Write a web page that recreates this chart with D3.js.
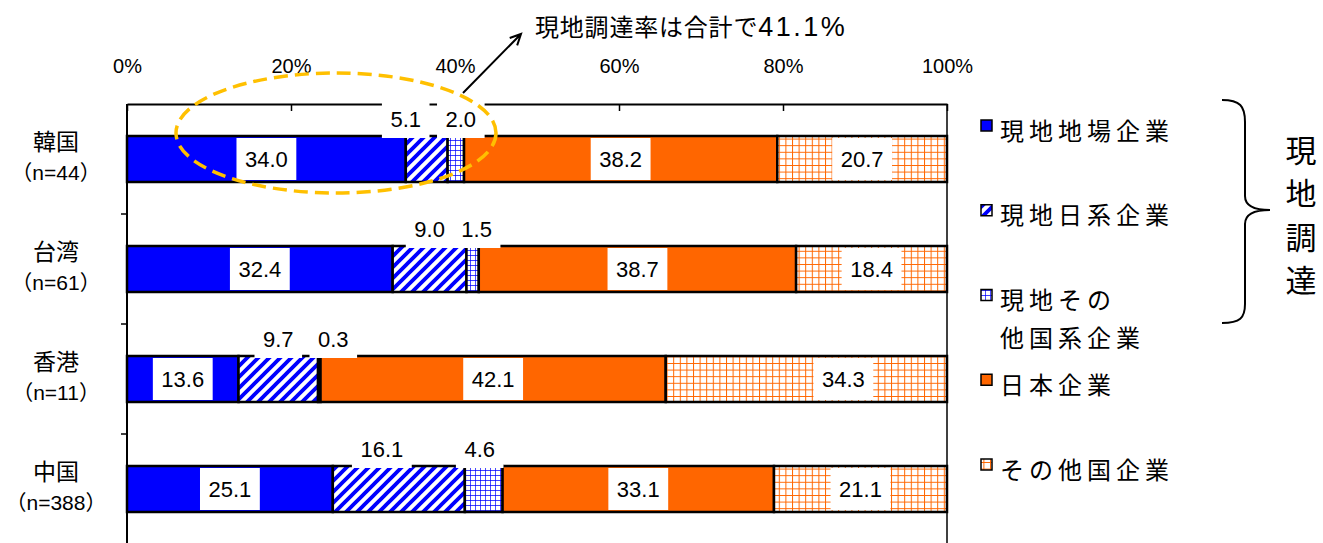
<!DOCTYPE html>
<html>
<head>
<meta charset="utf-8">
<script src="https://cdn.jsdelivr.net/npm/d3@7"></script>
<style>
  html, body { margin: 0; padding: 0; background: #fff; }
  svg { display: block; }
  text { font-family: "Liberation Sans", "Noto Sans CJK JP", sans-serif; fill: #000; }
  .jp { font-family: "Noto Sans CJK JP", sans-serif; }
</style>
</head>
<body>
<svg id="chart" width="1323" height="543"></svg>
<script>
// Procurement sources by region (%)
const categories = ["韓国", "台湾", "香港", "中国"];
const sampleSizes = ["n=44", "n=61", "n=11", "n=388"];
const seriesNames = ["現地地場企業", "現地日系企業", "現地その他国系企業", "日本企業", "その他国企業"];
const legendLines = [["現地地場企業"], ["現地日系企業"], ["現地その", "他国系企業"], ["日本企業"], ["その他国企業"]];
const localLocal    = [34.0, 32.4, 13.6, 25.1];
const localJapanese = [5.1, 9.0, 9.7, 16.1];
const localOther    = [2.0, 1.5, 0.3, 4.6];
const japanCos      = [38.2, 38.7, 42.1, 33.1];
const otherCos      = [20.7, 18.4, 34.3, 21.1];
const xTicks = [0, 20, 40, 60, 80, 100];
const calloutText = "現地調達率は合計で41.1%";
const bracketLabel = "現地調達";

const seriesValues = [localLocal, localJapanese, localOther, japanCos, otherCos];
const table = categories.map((c, i) => {
  const row = { category: c };
  seriesNames.forEach((s, j) => { row[s] = seriesValues[j][i]; });
  return row;
});

const svg = d3.select("#chart");

// ---- fill patterns ----
const defs = svg.append("defs");
const diag = defs.append("pattern").attr("id", "diag")
  .attr("patternUnits", "userSpaceOnUse").attr("width", 11).attr("height", 11);
diag.append("rect").attr("width", 11).attr("height", 11).attr("fill", "#fff");
diag.append("path").attr("d", "M-2,13 L13,-2 M-2,2 L2,-2 M9,13 L13,9")
  .attr("stroke", "#0000FF").attr("stroke-width", 3.8);

function grid(id, size, color, w) {
  const p = defs.append("pattern").attr("id", id)
    .attr("patternUnits", "userSpaceOnUse").attr("width", size).attr("height", size);
  p.append("rect").attr("width", size).attr("height", size).attr("fill", "#fff");
  p.append("path").attr("d", `M0,0 L${size},0 M0,0 L0,${size}`)
    .attr("stroke", color).attr("stroke-width", w);
}
grid("bgrid", 5, "#0000FF", 1.4);
grid("ogrid", 6.6, "#FF6600", 2);

const fills = ["#0000FF", "url(#diag)", "url(#bgrid)", "#FF6600", "url(#ogrid)"];

// ---- scales ----
const x = d3.scaleLinear().domain([0, 100]).range([127, 947]);
const y = d3.scaleBand().domain(categories).range([104, 544])
  .paddingInner(0.5818).paddingOuter(0.2909);
const bw = y.bandwidth();
const step = y.step();

// ---- frame ----
svg.append("line").attr("x1", x(100)).attr("x2", x(100)).attr("y1", 104).attr("y2", 543)
  .attr("stroke", "#000").attr("stroke-width", 1.5);

const topAxis = svg.append("g").attr("transform", "translate(0,104)")
  .call(d3.axisTop(x).tickValues(xTicks).tickSizeInner(-7).tickSizeOuter(0)
    .tickPadding(31).tickFormat(d => d + "%"));
topAxis.select(".domain").attr("stroke", "#000").attr("stroke-width", 2);
topAxis.selectAll(".tick line").attr("stroke", "#000").attr("stroke-width", 1.5);
topAxis.selectAll(".tick text").attr("font-size", 20).attr("fill", "#000")
  .style("font-family", '"Liberation Sans", sans-serif');

// ---- stacked bars ----
const stacked = d3.stack().keys(seriesNames)(table);
const layers = svg.append("g").selectAll("g").data(stacked).join("g")
  .attr("fill", (d, i) => fills[i]);
layers.selectAll("rect").data(d => d).join("rect")
  .attr("x", d => x(d[0]))
  .attr("y", d => y(d.data.category))
  .attr("width", d => x(d[1]) - x(d[0]))
  .attr("height", bw)
  .attr("stroke", "#000").attr("stroke-width", 2.5);

// left axis line and category separators
svg.append("line").attr("x1", x(0)).attr("x2", x(0)).attr("y1", 104).attr("y2", 543)
  .attr("stroke", "#000").attr("stroke-width", 2);
svg.append("g").selectAll("line").data(categories).join("line")
  .attr("x1", x(0) - 6).attr("x2", x(0))
  .attr("y1", d => y(d) + bw + (step - bw) / 2)
  .attr("y2", d => y(d) + bw + (step - bw) / 2)
  .attr("stroke", "#000").attr("stroke-width", 1.5);

// category labels: name, then sample size in full-width parentheses
const catG = svg.append("g");
const labelX = 56;
categories.forEach((c, i) => {
  const cy = y(c) + bw / 2;
  catG.append("text").attr("class", "jp").attr("x", labelX).attr("y", cy - 17)
    .attr("dy", "0.36em").attr("text-anchor", "middle").attr("font-size", 23)
    .text(c);
  const n = catG.append("text").attr("x", labelX).attr("y", cy + 13)
    .attr("dy", "0.36em").attr("text-anchor", "middle").attr("font-size", 21);
  n.append("tspan").attr("class", "jp").text("（");
  n.append("tspan").text(sampleSizes[i]);
  n.append("tspan").attr("class", "jp").text("）");
});

// ---- value labels ----
const labelNudge = {
  "韓国|現地日系企業": -21, "韓国|現地その他国系企業": 5,
  "台湾|現地その他国系企業": 4,
  "香港|現地その他国系企業": 14, "香港|その他国企業": 37,
  "中国|現地日系企業": -17, "中国|現地その他国系企業": -4
};
const labelG = svg.append("g");
stacked.forEach((layer, si) => {
  layer.forEach(d => {
    const cat = d.data.category;
    const val = d[1] - d[0];
    const above = si === 1 || si === 2;
    const cx = x((d[0] + d[1]) / 2) + (labelNudge[cat + "|" + layer.key] || 0);
    const barTop = y(cat);
    const cy = above ? barTop - 17 : barTop + bw / 2;
    const g = labelG.append("g");
    const rect = g.append("rect").attr("fill", "#fff");
    const t = g.append("text").attr("x", cx).attr("y", cy).attr("dy", "0.36em")
      .attr("text-anchor", "middle").attr("font-size", 22)
      .text(d3.format(".1f")(val));
    const w = t.node().getComputedTextLength() + 17;
    if (above) {
      rect.attr("x", cx - w / 2).attr("y", barTop - 33).attr("width", w).attr("height", 35);
    } else {
      rect.attr("x", cx - w / 2).attr("y", cy - 21).attr("width", w).attr("height", 42);
    }
  });
});

// ---- legend ----
const ly = d3.scalePoint().domain(seriesNames).range([131, 470]);
const legend = svg.append("g");
seriesNames.forEach((s, i) => {
  const cy = ly(s);
  legend.append("rect").attr("x", 981).attr("y", cy - 11).attr("width", 11).attr("height", 11)
    .attr("fill", fills[i]).attr("stroke", "#000").attr("stroke-width", 1.5);
  legendLines[i].forEach((line, k) => {
    legend.append("text").attr("class", "jp").attr("x", 1000).attr("y", cy + k * 38)
      .attr("dy", "0.36em").attr("font-size", 24).attr("letter-spacing", 5).text(line);
  });
});

// ---- bracket for local procurement ----
svg.append("path")
  .attr("d", "M1222,100 C1240,100 1245,106 1245,122 L1245,196 C1245,205 1253,210 1270,210 " +
             "C1253,210 1245,215 1245,224 L1245,304 C1245,318 1240,323 1222,323")
  .attr("fill", "none").attr("stroke", "#000").attr("stroke-width", 2);
svg.append("g").selectAll("text").data(Array.from(bracketLabel)).join("text")
  .attr("class", "jp").attr("x", 1301).attr("y", (d, i) => 151 + i * 43.3)
  .attr("dy", "0.36em").attr("text-anchor", "middle").attr("font-size", 31)
  .text(d => d);

// ---- callout ----
const head = 12;
const ax1 = 463, ay1 = 93, ax2 = 521, ay2 = 34;
const ang = Math.atan2(ay2 - ay1, ax2 - ax1);
svg.append("path")
  .attr("d", `M${ax1},${ay1} L${ax2},${ay2} ` +
    `M${ax2 - head * Math.cos(ang - 0.45)},${ay2 - head * Math.sin(ang - 0.45)} L${ax2},${ay2} ` +
    `L${ax2 - head * Math.cos(ang + 0.45)},${ay2 - head * Math.sin(ang + 0.45)}`)
  .attr("fill", "none").attr("stroke", "#000").attr("stroke-width", 2);
const splitAt = calloutText.search(/[0-9]/);
const callout = svg.append("text").attr("x", 535).attr("y", 36);
callout.append("tspan").attr("class", "jp").attr("font-size", 24).attr("letter-spacing", 0.8)
  .text(calloutText.slice(0, splitAt));
callout.append("tspan").attr("font-size", 27).attr("letter-spacing", 2.5)
  .text(calloutText.slice(splitAt));

svg.append("ellipse").attr("cx", 336).attr("cy", 133).attr("rx", 160).attr("ry", 60)
  .attr("fill", "none").attr("stroke", "#FFC000").attr("stroke-width", 3.5)
  .attr("stroke-dasharray", "14 7");
</script>
</body>
</html>
